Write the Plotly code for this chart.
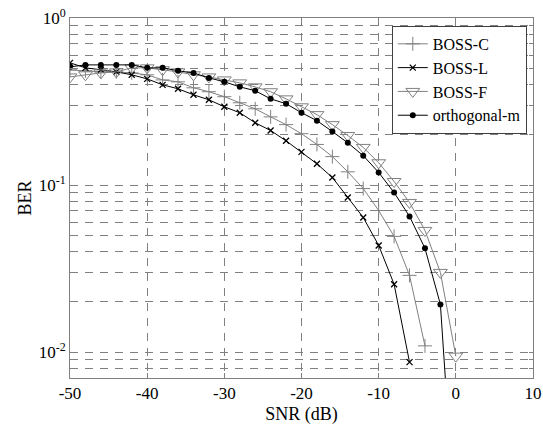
import plotly.graph_objects as go

snr = [-50, -48, -46, -44, -42, -40, -38, -36, -34, -32, -30, -28, -26,
       -24, -22, -20, -18, -16, -14, -12, -10, -8, -6, -4, -2, 0]

boss_c = [0.489, 0.483, 0.476, 0.476, 0.469, 0.457, 0.426, 0.415, 0.382, 0.362,
          0.338, 0.311, 0.286, 0.256, 0.230, 0.203, 0.175, 0.148, 0.120, 0.0953,
          0.0704, 0.0493, 0.0288, 0.0109]
boss_l = [0.539, 0.503, 0.490, 0.476, 0.457, 0.432, 0.398, 0.377, 0.347, 0.324,
          0.294, 0.271, 0.236, 0.212, 0.184, 0.158, 0.134, 0.111, 0.0842, 0.0640,
          0.0435, 0.0255, 0.00871]
boss_f = [0.444, 0.457, 0.469, 0.476, 0.503, 0.503, 0.490, 0.476, 0.457, 0.444,
          0.426, 0.409, 0.387, 0.362, 0.328, 0.294, 0.264, 0.230, 0.198, 0.168,
          0.136, 0.105, 0.0787, 0.0535, 0.0300, 0.00946]
orth_m = [0.510, 0.524, 0.524, 0.524, 0.524, 0.503, 0.503, 0.483, 0.469, 0.438,
          0.415, 0.387, 0.367, 0.328, 0.307, 0.271, 0.243, 0.209, 0.179, 0.150,
          0.119, 0.0902, 0.0649, 0.0418, 0.0193, 0.0008]

x_ticks = [-50, -40, -30, -20, -10, 0, 10]
y_grid = [0.007, 0.008, 0.009, 0.01, 0.02, 0.03, 0.04, 0.05, 0.06, 0.07, 0.08, 0.09,
          0.1, 0.2, 0.3, 0.4, 0.5, 0.6, 0.7, 0.8, 0.9, 1.0]
y_labels = {0.01: "10<sup>-2</sup>", 0.1: "10<sup>-1</sup>", 1.0: "10<sup>0</sup>"}

GRAY = "#808080"
FONT = "Liberation Serif"

fig = go.Figure()
fig.add_trace(go.Scatter(x=snr[:len(boss_c)], y=boss_c, name="BOSS-C", mode="lines+markers",
                         line=dict(color=GRAY, width=1),
                         marker=dict(symbol="cross-thin", size=10, line=dict(color=GRAY, width=1))))
fig.add_trace(go.Scatter(x=snr[:len(boss_l)], y=boss_l, name="BOSS-L", mode="lines+markers",
                         line=dict(color="black", width=1),
                         marker=dict(symbol="x-thin", size=6, line=dict(color="black", width=1.3))))
fig.add_trace(go.Scatter(x=snr[:len(boss_f)], y=boss_f, name="BOSS-F", mode="lines+markers",
                         line=dict(color=GRAY, width=1),
                         marker=dict(symbol="triangle-down-open", size=12, color=GRAY,
                                     line=dict(color=GRAY, width=1))))
fig.add_trace(go.Scatter(x=snr[:len(orth_m)], y=orth_m, name="orthogonal-m", mode="lines+markers",
                         line=dict(color="black", width=1),
                         marker=dict(symbol="circle", size=6, color="black")))

fig.update_layout(
    width=543, height=430,
    margin=dict(l=70, r=10, t=18, b=52, autoexpand=False),
    plot_bgcolor="white", paper_bgcolor="white",
    font=dict(family=FONT, size=16, color="black"),
    showlegend=True,
    legend=dict(x=0.695, y=0.978, xanchor="left", yanchor="top",
                bgcolor="white", bordercolor="#404040", borderwidth=1,
                font=dict(family=FONT, size=16), tracegroupgap=0,
                itemwidth=30),
)
fig.update_xaxes(
    range=[-50, 10], tickvals=x_ticks, ticktext=[str(v) for v in x_ticks],
    showgrid=True, gridcolor=GRAY, griddash="8px,7px", gridwidth=1,
    showline=True, linecolor=GRAY, linewidth=1, mirror="ticks",
    ticks="inside", ticklen=5, tickcolor=GRAY, zeroline=False, automargin=False,
    title=dict(text="SNR (dB)", font=dict(family=FONT, size=18), standoff=4),
    tickfont=dict(family=FONT, size=17),
)
fig.update_yaxes(
    type="log", range=[-2.155, 0],
    tickvals=y_grid, ticktext=[y_labels.get(v, "") for v in y_grid],
    showgrid=True, gridcolor=GRAY, griddash="8px,7px", gridwidth=1,
    showline=True, linecolor=GRAY, linewidth=1, mirror="ticks",
    ticks="inside", ticklen=4, tickcolor=GRAY, zeroline=False, automargin=False,
    title=dict(text="BER", font=dict(family=FONT, size=18), standoff=2),
    tickfont=dict(family=FONT, size=17),
)

fig.write_html("out.html")
